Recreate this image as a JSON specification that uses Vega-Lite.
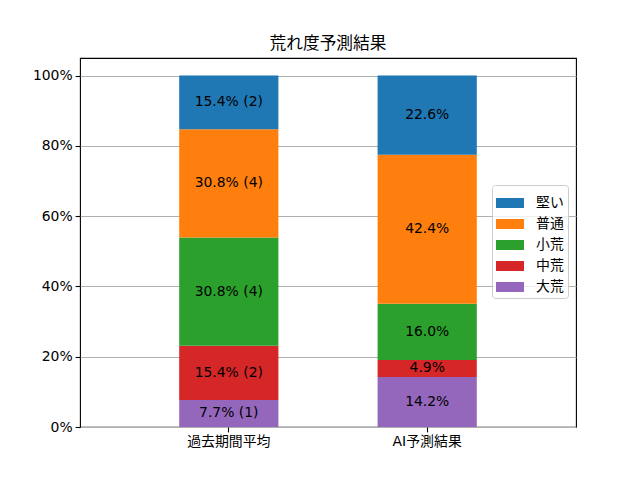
{
  "$schema": "https://vega.github.io/schema/vega-lite/v6.json",
  "width": 496,
  "height": 369,
  "autosize": {"type": "none"},
  "padding": {"left": 80, "top": 58, "right": 64, "bottom": 53},
  "background": "white",
  "title": {
    "text": "荒れ度予測結果",
    "fontSize": 16.7,
    "fontWeight": "normal",
    "font": "DejaVu Sans, Noto Sans CJK JP",
    "color": "black",
    "anchor": "middle",
    "offset": 5
  },
  "config": {
    "view": {"stroke": "black", "strokeWidth": 1.1},
    "font": "DejaVu Sans, Noto Sans CJK JP",
    "axis": {
      "labelFont": "DejaVu Sans, Noto Sans CJK JP",
      "labelFontSize": 13.9,
      "labelColor": "black",
      "tickColor": "black",
      "tickSize": 4.9,
      "tickWidth": 1.1,
      "domain": false,
      "title": null
    },
    "legend": {
      "labelFont": "DejaVu Sans, Noto Sans CJK JP",
      "labelFontSize": 13.9,
      "labelColor": "black"
    }
  },
  "data": {
    "values": [
      {"group": "過去期間平均", "cat": "大荒", "rank": 1, "value": 0.077, "label": "7.7% (1)"},
      {"group": "過去期間平均", "cat": "中荒", "rank": 2, "value": 0.154, "label": "15.4% (2)"},
      {"group": "過去期間平均", "cat": "小荒", "rank": 3, "value": 0.308, "label": "30.8% (4)"},
      {"group": "過去期間平均", "cat": "普通", "rank": 4, "value": 0.308, "label": "30.8% (4)"},
      {"group": "過去期間平均", "cat": "堅い", "rank": 5, "value": 0.153, "label": "15.4% (2)"},
      {"group": "AI予測結果", "cat": "大荒", "rank": 1, "value": 0.142, "label": "14.2%"},
      {"group": "AI予測結果", "cat": "中荒", "rank": 2, "value": 0.049, "label": "4.9%"},
      {"group": "AI予測結果", "cat": "小荒", "rank": 3, "value": 0.160, "label": "16.0%"},
      {"group": "AI予測結果", "cat": "普通", "rank": 4, "value": 0.424, "label": "42.4%"},
      {"group": "AI予測結果", "cat": "堅い", "rank": 5, "value": 0.225, "label": "22.6%"}
    ]
  },
  "encoding": {
    "x": {
      "field": "group",
      "type": "nominal",
      "sort": ["過去期間平均", "AI予測結果"],
      "scale": {"paddingInner": 0.5, "paddingOuter": 0.5},
      "axis": {"labelAngle": 0, "labelPadding": 3}
    }
  },
  "layer": [
    {
      "mark": {"type": "bar"},
      "encoding": {
        "y": {
          "field": "value",
          "type": "quantitative",
          "stack": "zero",
          "scale": {"domain": [0, 1.05], "nice": false},
          "axis": {
            "values": [0, 0.2, 0.4, 0.6, 0.8, 1.0],
            "format": ".0%",
            "grid": true,
            "gridColor": "#b0b0b0",
            "gridWidth": 1.1,
            "labelPadding": 3
          }
        },
        "color": {
          "field": "cat",
          "type": "nominal",
          "scale": {
            "domain": ["堅い", "普通", "小荒", "中荒", "大荒"],
            "range": ["#1f77b4", "#ff7f0e", "#2ca02c", "#d62728", "#9467bd"]
          },
          "legend": {
            "title": null,
            "orient": "none",
            "legendX": 412,
            "legendY": 127,
            "symbolType": "M-1,-0.357H1V0.357H-1Z",
            "symbolSize": 784,
            "symbolStrokeWidth": 0,
            "symbolOpacity": 1,
            "rowPadding": -1,
            "labelOffset": 12,
            "padding": 4,
            "fillColor": "rgba(255,255,255,0.8)",
            "strokeColor": "#cccccc",
            "cornerRadius": 3
          }
        },
        "order": {"field": "rank", "type": "quantitative"}
      }
    },
    {
      "mark": {
        "type": "text",
        "fontSize": 13.9,
        "color": "black",
        "font": "DejaVu Sans, Noto Sans CJK JP"
      },
      "encoding": {
        "y": {
          "field": "value",
          "type": "quantitative",
          "stack": "zero",
          "bandPosition": 0.5
        },
        "text": {"field": "label"},
        "detail": {"field": "cat"},
        "order": {"field": "rank", "type": "quantitative"}
      }
    }
  ]
}
